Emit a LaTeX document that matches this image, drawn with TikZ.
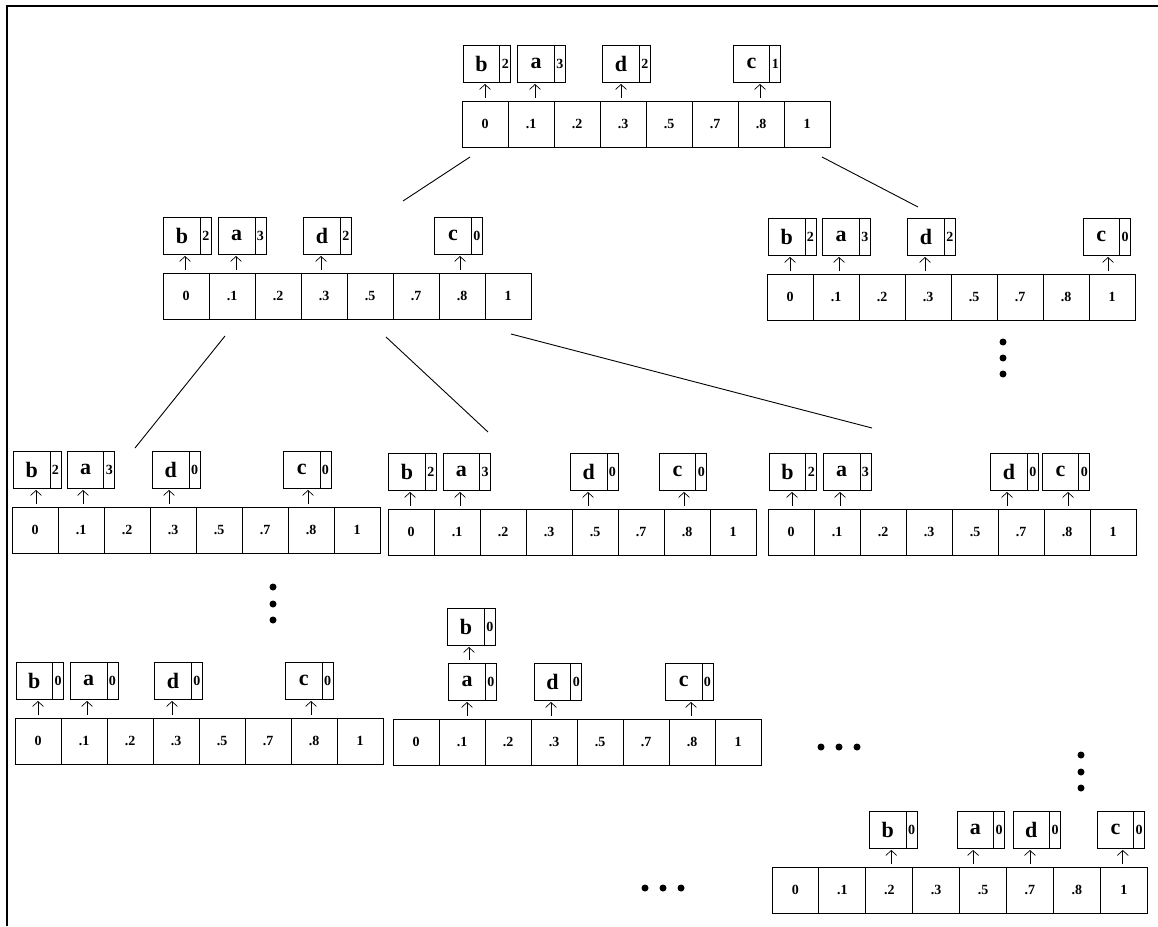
\documentclass[tikz,border=0pt]{standalone}
\usepackage{fontspec}
\setmainfont{Liberation Serif}
\usetikzlibrary{positioning,arrows.meta}

\begin{document}
\begin{tikzpicture}[x=1pt,y=-1pt,line width=.9pt,
  cell/.style={draw,anchor=north west,inner sep=0,outer sep=0,minimum height=46pt,font=\bfseries\fontsize{14}{14}\selectfont},
  lbl/.style={draw,inner sep=0,outer sep=0,minimum width=36.5pt,minimum height=37pt,font=\bfseries\fontsize{22}{22}\selectfont},
  cnt/.style={draw,inner sep=0,outer sep=0,minimum width=11pt,minimum height=37pt,font=\bfseries\fontsize{14}{14}\selectfont},
  up/.style={-{Straight Barb[length=5pt,width=11pt]},line width=.7pt,shorten <=3pt,shorten >=2pt}]
\useasboundingbox (0,0) rectangle (1158,926);
\draw[line width=2pt] (7,926) -- (7,6) -- (1158,6);

% one row of eight cells: name, left, top, cell width
\def\cellrow#1#2#3#4{
  \foreach \v[count=\i from 0] in {0,.1,.2,.3,.5,.7,.8,1}
    \node[cell,minimum width=#4pt] (#1-\i) at (#2+\i*#4,#3) {\v};
}
% a key box over a cell: row, cell, letter, count, box shift, arrow shift
\def\slot#1#2#3#4#5#6{
  \node[lbl,above=19pt of #1-#2,xshift=#5pt] (#1#3) {#3};
  \node[cnt,right=0pt of #1#3] (#1#3n) {#4};
  \draw[up] ([xshift=#6pt]#1-#2.north) -- ([xshift=#6pt]#1-#2.north |- #1#3.south);
}

\cellrow{T}{462}{101}{46}
\cellrow{L}{163}{273}{46}
\cellrow{R}{767}{274}{46}
\cellrow{LL}{12}{507}{46}
\cellrow{LM}{388}{509}{46}
\cellrow{LR}{768}{509}{46}
\cellrow{BL}{15}{718}{46}
\cellrow{BM}{393}{719}{46}
\cellrow{BR}{772}{867}{46.9}

\foreach \c/\l/\k/\s/\a in {0/b/2/-3.5/0,1/a/3/5/4,3/d/2/-2/-2,6/c/1/-9.5/-1} {\slot{T}{\c}{\l}{\k}{\s}{\a}}
\foreach \c/\l/\k/\s/\a in {0/b/2/-4/-1,1/a/3/4.7/4,3/d/2/-2/-3,6/c/0/-9/-2} {\slot{L}{\c}{\l}{\k}{\s}{\a}}
\foreach \c/\l/\k/\s/\a in {0/b/2/-3.3/0,1/a/3/5/3,3/d/2/-2/-3,7/c/0/-10.7/-4} {\slot{R}{\c}{\l}{\k}{\s}{\a}}
\foreach \c/\l/\k/\s/\a in {0/b/2/-3.3/1,1/a/3/4.5/2,3/d/0/-2.2/-4,6/c/0/-9.3/-3} {\slot{LL}{\c}{\l}{\k}{\s}{\a}}
\foreach \c/\l/\k/\s/\a in {0/b/2/-4/-1,1/a/3/4.3/3,4/d/0/-6.3/-7,6/c/0/-9.5/-3} {\slot{LM}{\c}{\l}{\k}{\s}{\a}}
\foreach \c/\l/\k/\s/\a in {0/b/2/-3.5/1,1/a/3/4.7/3,5/d/0/-12/-14,6/c/0/-6.5/1} {\slot{LR}{\c}{\l}{\k}{\s}{\a}}
\foreach \c/\l/\k/\s/\a in {0/b/0/-3.7/0,1/a/0/4.7/3,3/d/0/-3/-4,6/c/0/-10.2/-3} {\slot{BL}{\c}{\l}{\k}{\s}{\a}}
\foreach \c/\l/\k/\s/\a in {1/a/0/5/5,3/d/0/-1.5/-3,6/c/0/-8.3/-1} {\slot{BM}{\c}{\l}{\k}{\s}{\a}}
\foreach \c/\l/\k/\s/\a in {2/b/0/-1.5/2,4/a/0/-7.8/-10,5/d/0/1.3/0,7/c/0/-8.3/-1} {\slot{BR}{\c}{\l}{\k}{\s}{\a}}

% b sits on top of a
\node[lbl,above=18pt of BMa,xshift=-1pt] (BMb) {b};
\node[cnt,right=0pt of BMb] (BMbn) {0};
\draw[up] ([xshift=2pt]BMa.north) -- ([xshift=2pt]BMa.north |- BMb.south);

% tree lines
\draw ([shift={(-15,10)}]T-0.south) -- ([shift={(-13,-72)}]L-5.north);
\draw ([shift={(15,10)}]T-7.south) -- ([shift={(-10,-67)}]R-3.north);
\draw ([shift={(-7,17)}]L-1.south) -- ([shift={(8,-59)}]LL-2.north);
\draw ([shift={(16,18)}]L-4.south) -- ([shift={(-15,-77)}]LM-2.north);
\draw ([shift={(3,15)}]L-7.south) -- ([shift={(-11,-81)}]LR-2.north);

% dots
\foreach \y in {342,358,374} \fill (1003,\y) circle[radius=3.5pt];
\foreach \y in {587,604,620} \fill (273,\y) circle[radius=3.5pt];
\foreach \y in {755,772,788} \fill (1081,\y) circle[radius=3.5pt];
\foreach \x in {821,839,857} \fill (\x,747) circle[radius=3.5pt];
\foreach \x in {645,663,681} \fill (\x,888) circle[radius=3.5pt];
\end{tikzpicture}
\end{document}
